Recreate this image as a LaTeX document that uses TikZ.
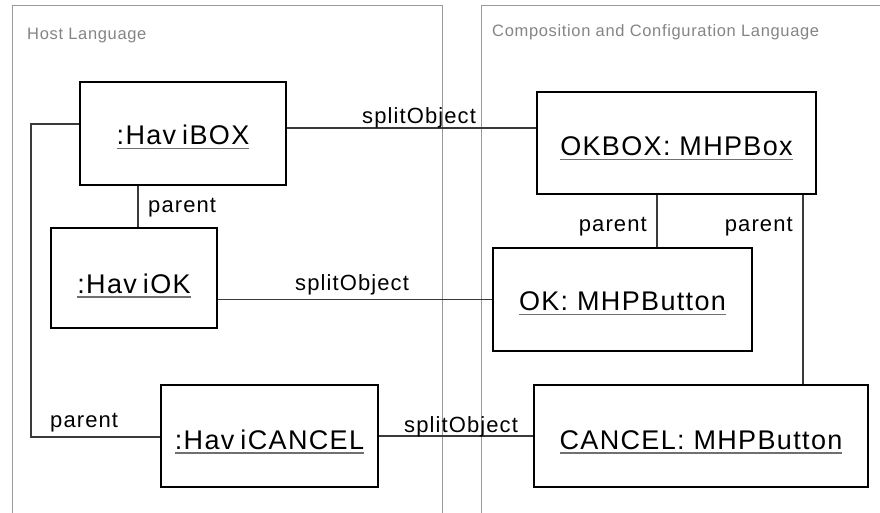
\documentclass[tikz,border=0pt]{standalone}
\usepackage{fontspec}
\setmainfont{Liberation Sans}
\newfontfamily\boxfont[LetterSpace=5]{Liberation Sans}
\newfontfamily\lblfont[LetterSpace=5]{Liberation Sans}
\newfontfamily\framefont[LetterSpace=4]{Liberation Sans}
\definecolor{framec}{HTML}{9A9A9A}
\definecolor{framet}{HTML}{858585}
\definecolor{connc}{HTML}{3A3A3A}
\definecolor{ulc}{HTML}{707070}
\newcommand\ulgray[2][13]{\setbox0=\hbox{#2}\raisebox{-#1pt}[0pt][0pt]{\rlap{\textcolor{ulc}{\rule[-4.5pt]{\wd0}{1.3pt}}}\box0}}
\tikzset{
  obj/.style={draw=black, line width=1.2pt, fill=white, rectangle, inner sep=0pt,
    font=\boxfont\fontsize{27}{31}\selectfont},
  conn/.style={draw=connc, line width=1.1pt},
  lbl/.style={inner sep=0pt, font=\lblfont\fontsize{22}{26}\selectfont, text=black},
  frame/.style={draw=framec, line width=1pt},
  framelbl/.style={inner sep=0pt, anchor=base west, font=\framefont\fontsize{16.5}{19}\selectfont, text=framet}
}
\begin{document}
\begin{tikzpicture}[x=1pt, y=-1pt]
\fill[white] (0,0) rectangle (880,513);
\useasboundingbox (0,0) rectangle (880,513);
% frames
\draw[frame] (12,513) -- (12,6) -- (442,6) -- (442,513);
\draw[frame] (880,6) -- (481,6) -- (481,513);
\node[framelbl] (hostlbl) at (27,40) {Host Language};
\node[framelbl] (cclbl) at (492,37) {Composition and Configuration Language};
% objects
\node[obj, minimum width=206pt, minimum height=103pt] (HaviBOX) at (183,133.5) {\ulgray[11]{:Hav\kern6pt iBOX}};
\node[obj, minimum width=166pt, minimum height=100pt] (HaviOK) at (134,278) {\ulgray[15]{:Hav\kern6pt iOK}};
\node[obj, minimum width=217pt, minimum height=102pt] (HaviCANCEL) at (269.5,436) {\ulgray[13]{:Hav\kern6pt iCANCEL}};
\node[obj, minimum width=279pt, minimum height=102pt] (OKBOX) at (676.5,143) {\ulgray[13]{OKBOX: MHPBox}};
\node[obj, minimum width=259pt, minimum height=103pt] (OK) at (622.5,299.5) {\ulgray[11]{OK: MHPButton}};
\node[obj, minimum width=334pt, minimum height=102pt] (CANCEL) at (701,436) {\ulgray[13]{CANCEL: MHPButton}};
% helper coordinates
\coordinate (s1) at (0,128);
\coordinate (p1x) at (138,0);
\coordinate (p2x) at (657,0);
\coordinate (p3x) at (803,0);
\coordinate (p4a) at (31,124);
\coordinate (p4b) at (31,437);
% connectors
\draw[conn] (HaviBOX.east |- s1) -- (OKBOX.west |- s1);
\draw[conn] (HaviOK.east |- OK.west) -- (OK.west);
\draw[conn] (HaviCANCEL.east) -- (CANCEL.west);
\draw[conn] (HaviBOX.south -| p1x) -- (HaviOK.north -| p1x);
\draw[conn] (OKBOX.south -| p2x) -- (OK.north -| p2x);
\draw[conn] (OKBOX.south -| p3x) -- (CANCEL.north -| p3x);
\draw[conn] (HaviBOX.west |- p4a) -- (p4a) -- (p4b) -- (HaviCANCEL.west |- p4b);
% labels
\node[lbl, anchor=base west] (sp1) at (362,124) {splitObject};
\node[lbl, anchor=base west] (sp2) at (295,290) {splitObject};
\node[lbl, anchor=base west] (sp3) at (404,432) {splitObject};
\node[lbl, anchor=base west] (par1) at (148,212) {parent};
\node[lbl, anchor=base east] (par2) at (647,231) {parent};
\node[lbl, anchor=base east] (par3) at (793,231) {parent};
\node[lbl, anchor=base west] (par4) at (50,427) {parent};
\end{tikzpicture}
\end{document}
